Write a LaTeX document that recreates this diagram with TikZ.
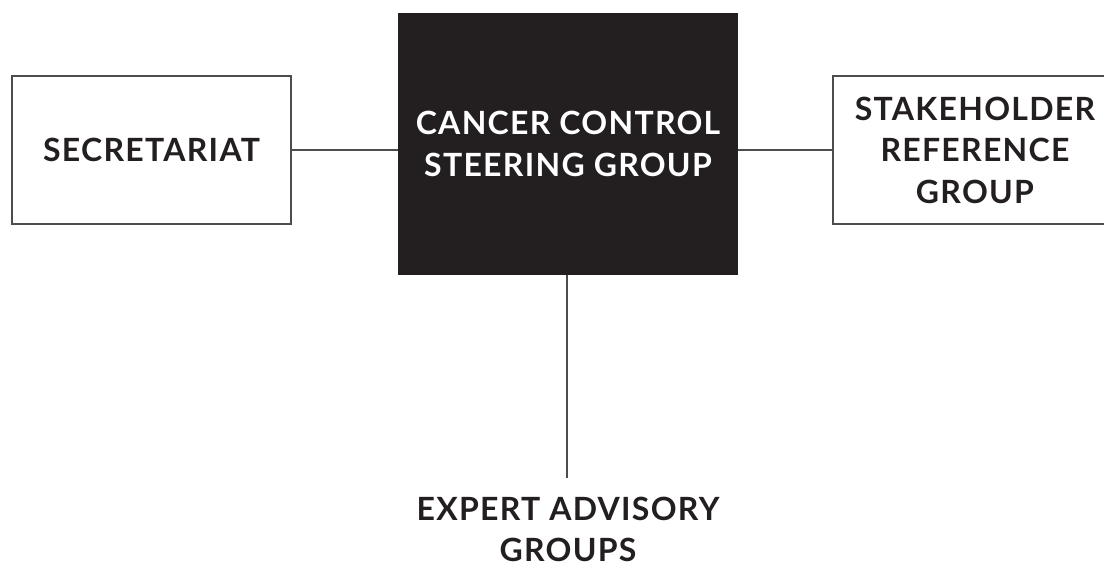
\documentclass[tikz,border=0pt]{standalone}
\usepackage{fontspec}
\setmainfont{Lato}[UprightFont=* Bold, LetterSpace=4]
\definecolor{boxblack}{HTML}{231F20}
\definecolor{linegray}{HTML}{4D4D4D}
\begin{document}
\begin{tikzpicture}[x=1pt,y=-1pt,
  every node/.style={font=\fontsize{32}{41.5}\selectfont, align=center, inner sep=0pt, text=boxblack},
  whitebox/.style={draw=linegray, line width=1.1pt, fill=white},
  blackbox/.style={fill=boxblack, text=white},
  link/.style={draw=linegray, line width=1.1pt}]
\useasboundingbox (0,0) rectangle (1104,567);
\clip (0,0) rectangle (1104,567);
\node[whitebox, minimum width=279pt, minimum height=148pt] (sec) at (151.5,150) {SECRETARIAT};
\node[blackbox, minimum width=340pt, minimum height=262pt] (csg) at (568,144) {CANCER CONTROL\\STEERING GROUP};
\node[whitebox, minimum width=284pt, minimum height=148pt] (srg) at (975,150) {STAKEHOLDER\\REFERENCE\\GROUP};
\node[anchor=south, text depth=0pt] (eag) at (568,562) {EXPERT ADVISORY\\GROUPS};
\coordinate (vend) at (567,478);
\draw[link] (sec.east) -- (sec.east -| csg.west);
\draw[link] (csg.east |- sec.east) -- (srg.west |- sec.east);
\draw[link] (csg.south -| vend) -- (vend);
\end{tikzpicture}
\end{document}
